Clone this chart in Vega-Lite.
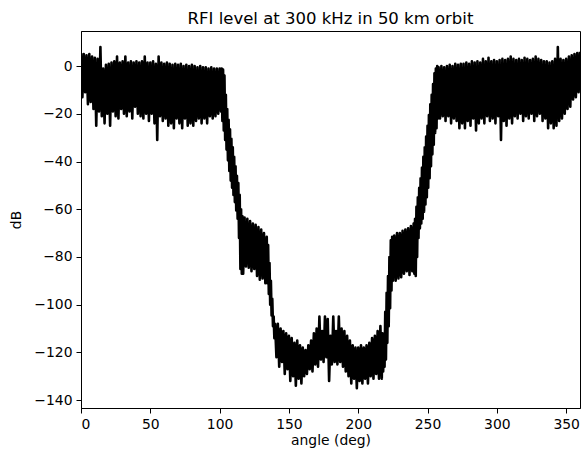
{
  "$schema": "https://vega.github.io/schema/vega-lite/v6.json",
  "width": 499,
  "height": 377,
  "autosize": {"type": "none"},
  "padding": {"left": 81, "top": 31, "right": 4, "bottom": 42},
  "background": "white",
  "title": {"text": "RFI level at 300 kHz in 50 km orbit", "font": "DejaVu Sans", "fontSize": 16.5, "fontWeight": "normal", "color": "black", "offset": 4},
  "config": {
    "view": {"stroke": "black", "strokeWidth": 1},
    "axis": {"domainColor": "black", "domainWidth": 1, "tickColor": "black", "tickWidth": 1, "tickSize": 5, "labelPadding": 4, "labelColor": "black", "labelFont": "DejaVu Sans", "labelFontSize": 13.9, "titleFont": "DejaVu Sans", "titleFontSize": 13.9, "titleFontWeight": "normal", "titleColor": "black", "grid": false}
  },
  "data": {"values": [
{"a":0,"db":5.5},{"a":1,"db":-13},{"a":2,"db":5},{"a":3,"db":-11},{"a":4,"db":4.5},{"a":5,"db":-16},{"a":6,"db":5},{"a":7,"db":-15},{"a":8,"db":4},{"a":9,"db":-18},
{"a":10,"db":3.5},{"a":11,"db":-25},{"a":12,"db":3},{"a":13,"db":-19},{"a":14,"db":8},{"a":15,"db":-21},{"a":16,"db":-1},{"a":17,"db":-24},{"a":18,"db":0.5},{"a":19,"db":-20},
{"a":20,"db":1},{"a":21,"db":-25},{"a":22,"db":1.5},{"a":23,"db":-19},{"a":24,"db":2},{"a":25,"db":-21},{"a":26,"db":4},{"a":27,"db":-22},{"a":28,"db":1.5},{"a":29,"db":-18},
{"a":30,"db":2},{"a":31,"db":-20},{"a":32,"db":4},{"a":33,"db":-21},{"a":34,"db":1.5},{"a":35,"db":-19},{"a":36,"db":2},{"a":37,"db":-22},{"a":38,"db":1.5},{"a":39,"db":-17},
{"a":40,"db":2},{"a":41,"db":-20},{"a":42,"db":1.5},{"a":43,"db":-21},{"a":44,"db":2},{"a":45,"db":-22},{"a":46,"db":4},{"a":47,"db":-20},{"a":48,"db":1.5},{"a":49,"db":-23},
{"a":50,"db":1.5},{"a":51,"db":-20},{"a":52,"db":2},{"a":53,"db":-24},{"a":54,"db":1},{"a":55,"db":-31},{"a":56,"db":4},{"a":57,"db":-21},{"a":58,"db":1.5},{"a":59,"db":-23},
{"a":60,"db":1},{"a":61,"db":-22},{"a":62,"db":1.5},{"a":63,"db":-25},{"a":64,"db":1},{"a":65,"db":-24},{"a":66,"db":0.5},{"a":67,"db":-26},{"a":68,"db":1},{"a":69,"db":-22},
{"a":70,"db":0.5},{"a":71,"db":-24},{"a":72,"db":1},{"a":73,"db":-26},{"a":74,"db":0},{"a":75,"db":-22},{"a":76,"db":0.5},{"a":77,"db":-25},{"a":78,"db":0},{"a":79,"db":-24},
{"a":80,"db":0.5},{"a":81,"db":-25},{"a":82,"db":0},{"a":83,"db":-23},{"a":84,"db":-0.5},{"a":85,"db":-22},{"a":86,"db":0},{"a":87,"db":-24},{"a":88,"db":-0.5},{"a":89,"db":-22},
{"a":90,"db":-0.5},{"a":91,"db":-24},{"a":92,"db":-1},{"a":93,"db":-21},{"a":94,"db":-0.5},{"a":95,"db":-22},{"a":96,"db":-1},{"a":97,"db":-21},{"a":98,"db":-1},{"a":99,"db":-20},
{"a":100,"db":-1},{"a":101,"db":-19},{"a":101.5,"db":-1},{"a":102,"db":-23},{"a":102.5,"db":-1.5},{"a":103,"db":-27},{"a":103.5,"db":-4},{"a":104,"db":-31},{"a":104.5,"db":-12},{"a":105,"db":-35},
{"a":105.5,"db":-18},{"a":106,"db":-39.5},{"a":106.5,"db":-22.5},{"a":107,"db":-44},{"a":107.5,"db":-26.5},{"a":108,"db":-48},{"a":108.5,"db":-30.5},{"a":109,"db":-51},{"a":109.5,"db":-34},{"a":110,"db":-54},
{"a":110.5,"db":-38},{"a":111,"db":-57},{"a":111.5,"db":-42},{"a":112,"db":-60.5},{"a":112.5,"db":-46},{"a":113,"db":-64},{"a":113.5,"db":-49},{"a":114,"db":-72},{"a":114.5,"db":-54},{"a":115,"db":-85},
{"a":115.5,"db":-60},{"a":116,"db":-87},{"a":116.5,"db":-63},{"a":117,"db":-87},{"a":118,"db":-63.5},{"a":119,"db":-84},
{"a":120,"db":-64},{"a":121,"db":-84.5},{"a":122,"db":-65},{"a":123,"db":-86},{"a":124,"db":-66},{"a":125,"db":-85},{"a":126,"db":-66.5},{"a":127,"db":-88},{"a":128,"db":-67.5},{"a":129,"db":-89.5},
{"a":130,"db":-68.5},{"a":131,"db":-89},{"a":132,"db":-70},{"a":133,"db":-91},{"a":134,"db":-71.5},{"a":134.5,"db":-91},{"a":135,"db":-75},{"a":135.5,"db":-95.5},{"a":136,"db":-82.5},{"a":136.5,"db":-100},
{"a":137,"db":-90},{"a":137.5,"db":-104.5},{"a":138,"db":-97.5},{"a":138.5,"db":-109},{"a":139,"db":-105},{"a":139.5,"db":-114},
{"a":140,"db":-108},{"a":141,"db":-122},{"a":142,"db":-108},{"a":143,"db":-126},{"a":144,"db":-110},{"a":145,"db":-124},{"a":146,"db":-111},{"a":147,"db":-129},{"a":148,"db":-112},{"a":149,"db":-127},
{"a":150,"db":-113},{"a":151,"db":-132},{"a":152,"db":-114},{"a":153,"db":-130},{"a":154,"db":-116},{"a":155,"db":-134},{"a":156,"db":-115},{"a":157,"db":-131},{"a":158,"db":-117},{"a":159,"db":-133},
{"a":160,"db":-118},{"a":161,"db":-130},{"a":162,"db":-119},{"a":163,"db":-129},{"a":164,"db":-117},{"a":165,"db":-127},{"a":166,"db":-115},{"a":167,"db":-128},{"a":168,"db":-112},{"a":169,"db":-125},
{"a":170,"db":-110},{"a":171,"db":-126},{"a":172,"db":-105},{"a":173,"db":-123},{"a":174,"db":-111},{"a":175,"db":-124},{"a":176,"db":-105},{"a":177,"db":-122},{"a":178,"db":-106},{"a":179,"db":-132},
{"a":180,"db":-113},{"a":181,"db":-125},{"a":182,"db":-105},{"a":183,"db":-124},{"a":184,"db":-111},{"a":185,"db":-125},{"a":186,"db":-105},{"a":187,"db":-124},{"a":188,"db":-110},{"a":189,"db":-126},
{"a":190,"db":-111},{"a":191,"db":-128},{"a":192,"db":-113},{"a":193,"db":-130},{"a":194,"db":-115},{"a":195,"db":-133},{"a":196,"db":-117},{"a":197,"db":-131},{"a":198,"db":-118},{"a":199,"db":-135},
{"a":200,"db":-118},{"a":201,"db":-132},{"a":202,"db":-117},{"a":203,"db":-133},{"a":204,"db":-118},{"a":205,"db":-131},{"a":206,"db":-117},{"a":207,"db":-133},{"a":208,"db":-116},{"a":209,"db":-130},
{"a":210,"db":-114},{"a":211,"db":-131},{"a":212,"db":-113},{"a":213,"db":-129},{"a":214,"db":-111},{"a":215,"db":-131},{"a":216,"db":-109},{"a":217,"db":-131},{"a":217.5,"db":-112},{"a":218,"db":-128},
{"a":218.5,"db":-113},{"a":219,"db":-126},{"a":219.5,"db":-103},{"a":220,"db":-123},{"a":220.5,"db":-95},{"a":221,"db":-116},{"a":221.5,"db":-88},{"a":222,"db":-109},{"a":222.5,"db":-80},{"a":223,"db":-101.5},
{"a":223.5,"db":-73},{"a":224,"db":-94},{"a":224.5,"db":-71.5},{"a":225,"db":-90},{"a":226,"db":-71},{"a":227,"db":-90},{"a":228,"db":-70},{"a":229,"db":-89},
{"a":230,"db":-70},{"a":231,"db":-88.5},{"a":232,"db":-69},{"a":233,"db":-87},{"a":234,"db":-68.5},{"a":235,"db":-86},{"a":236,"db":-68},{"a":237,"db":-87.5},{"a":238,"db":-67},{"a":239,"db":-86},
{"a":240,"db":-66},{"a":240.5,"db":-87},{"a":241,"db":-64},{"a":241.5,"db":-88},{"a":242,"db":-59},{"a":242.5,"db":-80},{"a":243,"db":-55},{"a":243.5,"db":-72},{"a":244,"db":-51},{"a":244.5,"db":-68},
{"a":245,"db":-47},{"a":245.5,"db":-66},{"a":246,"db":-42.5},{"a":246.5,"db":-64},{"a":247,"db":-38},{"a":247.5,"db":-61},{"a":248,"db":-34},{"a":248.5,"db":-58},{"a":249,"db":-29.5},{"a":249.5,"db":-55},
{"a":250,"db":-25},{"a":250.5,"db":-51},{"a":251,"db":-20.5},{"a":251.5,"db":-47},{"a":252,"db":-16},{"a":252.5,"db":-42},{"a":253,"db":-12},{"a":253.5,"db":-37},{"a":254,"db":-7.5},{"a":254.5,"db":-33},
{"a":255,"db":-3},{"a":255.5,"db":-28},{"a":256,"db":-1},{"a":256.5,"db":-26},{"a":257,"db":0},{"a":257.5,"db":-22},{"a":258,"db":-0.5},{"a":259,"db":-22},
{"a":260,"db":0},{"a":261,"db":-21},{"a":262,"db":-0.5},{"a":263,"db":-23},{"a":264,"db":0},{"a":265,"db":-21},{"a":266,"db":0.5},{"a":267,"db":-24},{"a":268,"db":0},{"a":269,"db":-22},
{"a":270,"db":1},{"a":271,"db":-23},{"a":272,"db":0.5},{"a":273,"db":-26},{"a":274,"db":1},{"a":275,"db":-24},{"a":276,"db":1},{"a":277,"db":-26},{"a":278,"db":1.5},{"a":279,"db":-23},
{"a":280,"db":1},{"a":281,"db":-25},{"a":282,"db":2},{"a":283,"db":-22},{"a":284,"db":1.5},{"a":285,"db":-27},{"a":286,"db":2},{"a":287,"db":-24},{"a":288,"db":1.5},{"a":289,"db":-22},
{"a":290,"db":3},{"a":291,"db":-24},{"a":292,"db":2},{"a":293,"db":-21},{"a":294,"db":3.5},{"a":295,"db":-23},{"a":296,"db":2},{"a":297,"db":-22},{"a":298,"db":2.5},{"a":299,"db":-24},
{"a":300,"db":2},{"a":301,"db":-21},{"a":302,"db":2.5},{"a":303,"db":-31},{"a":304,"db":3},{"a":305,"db":-23},{"a":306,"db":2.5},{"a":307,"db":-25},{"a":308,"db":3},{"a":309,"db":-22},
{"a":310,"db":4},{"a":311,"db":-24},{"a":312,"db":3},{"a":313,"db":-21},{"a":314,"db":2.5},{"a":315,"db":-22},{"a":316,"db":3},{"a":317,"db":-20},{"a":318,"db":2.5},{"a":319,"db":-23},
{"a":320,"db":3.5},{"a":321,"db":-21},{"a":322,"db":3},{"a":323,"db":-22},{"a":324,"db":2.5},{"a":325,"db":-20},{"a":326,"db":3},{"a":327,"db":-23},{"a":328,"db":4},{"a":329,"db":-21},
{"a":330,"db":3},{"a":331,"db":-20},{"a":332,"db":2.5},{"a":333,"db":-23},{"a":334,"db":2},{"a":335,"db":-22},{"a":336,"db":2},{"a":337,"db":-26},{"a":338,"db":1.5},{"a":339,"db":-24},
{"a":340,"db":2},{"a":341,"db":-26},{"a":342,"db":3},{"a":343,"db":-25},{"a":344,"db":8},{"a":345,"db":-23},{"a":346,"db":3},{"a":347,"db":-22},{"a":348,"db":2.5},{"a":349,"db":-20},
{"a":350,"db":3},{"a":351,"db":-18},{"a":352,"db":4},{"a":353,"db":-17},{"a":354,"db":4.5},{"a":355,"db":-14},{"a":356,"db":5},{"a":357,"db":-13},{"a":358,"db":5.5},{"a":359,"db":-11},
{"a":360,"db":6}
  ]},
  "mark": {"type": "line", "color": "black", "strokeWidth": 2.6, "strokeJoin": "round", "clip": true},
  "encoding": {
    "x": {"field": "a", "type": "quantitative", "scale": {"domain": [0, 360], "nice": false, "zero": false}, "axis": {"values": [0, 50, 100, 150, 200, 250, 300, 350], "title": "angle (deg)", "titlePadding": 3}},
    "y": {"field": "db", "type": "quantitative", "scale": {"domain": [-143.3, 14.7], "nice": false, "zero": false}, "axis": {"values": [-140, -120, -100, -80, -60, -40, -20, 0], "labelExpr": "datum.value < 0 ? '\u2212' + format(-datum.value, 'd') : format(datum.value, 'd')", "title": "dB", "titlePadding": 10}}
  }
}
